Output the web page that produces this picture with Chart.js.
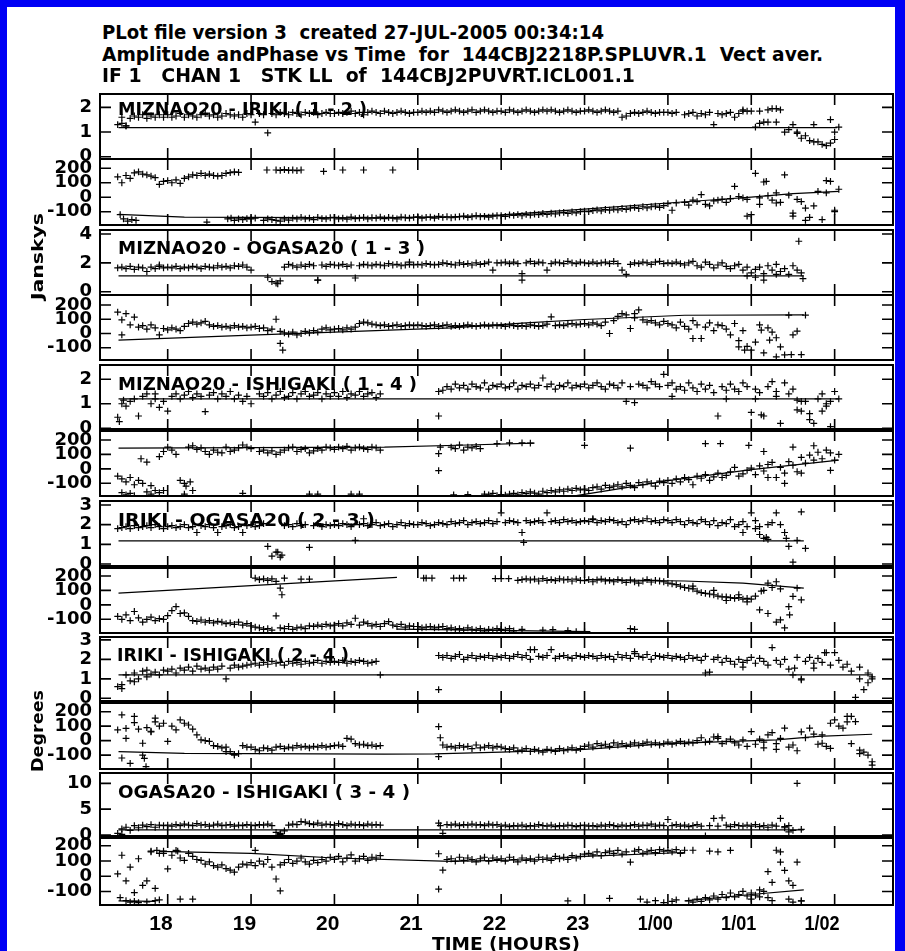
<!DOCTYPE html>
<html>
<head>
<meta charset="utf-8">
<title>Amplitude and Phase vs Time</title>
<script src="https://cdn.jsdelivr.net/npm/chart.js@4.4.1/dist/chart.umd.min.js"></script>
<style>
  body { margin: 0; width: 905px; height: 951px; background: #0000f5; position: relative; overflow: hidden; }
  #sheet { position: absolute; left: 7px; top: 7px; width: 888px; height: 944px; background: #fff; }
  canvas { position: absolute; left: 0; }
  .txt { position: absolute; z-index: 2; font-family: "DejaVu Sans", sans-serif; font-weight: bold; color: #000; white-space: pre; line-height: 1; transform-origin: 0 0; }
</style>
</head>
<body>
<div id="sheet"></div>
<div class="txt" data-w="502" style="left:102px;top:23px;font-size:19px">PLot file version 3  created 27-JUL-2005 00:34:14</div>
<div class="txt" data-w="721" style="left:102px;top:45px;font-size:19px">Amplitude andPhase vs Time  for  144CBJ2218P.SPLUVR.1  Vect aver.</div>
<div class="txt" data-w="533" style="left:102px;top:65.5px;font-size:19px">IF 1   CHAN 1   STK LL  of  144CBJ2PUVRT.ICL001.1</div>
<div class="txt" data-w="87" data-rot="1" style="left:30px;top:300px;font-size:16px">Janskys</div>
<div class="txt" data-w="82" data-rot="1" style="left:30px;top:772px;font-size:16px">Degrees</div>
<div class="txt" data-w="148" style="left:432px;top:935px;font-size:18px">TIME (HOURS)</div>
<script>
// sample times (hours), shared by every baseline
var hours = [
  17.40,17.45,17.50,17.55,17.60,17.65,17.70,17.75,17.80,17.85,17.90,17.95,
  18.00,18.05,18.10,18.15,18.20,18.25,18.30,18.35,18.40,18.45,18.50,18.55,18.60,18.65,18.70,18.75,18.80,18.85,18.90,18.95,
  19.00,19.05,19.10,19.15,19.20,19.25,19.30,19.35,19.40,19.45,19.50,19.55,19.60,19.65,19.70,19.75,19.80,19.85,19.90,19.95,
  20.00,20.05,20.10,20.15,20.20,20.25,20.30,20.35,20.40,20.45,20.50,20.55,20.60,20.65,20.70,20.75,20.80,20.85,20.90,20.95,
  21.00,21.05,21.10,21.15,21.20,21.25,21.30,21.35,21.40,21.45,21.50,21.55,21.60,21.65,21.70,21.75,21.80,21.85,21.90,21.95,
  22.00,22.05,22.10,22.15,22.20,22.25,22.30,22.35,22.40,22.45,22.50,22.55,22.60,22.65,22.70,22.75,22.80,22.85,22.90,22.95,
  23.00,23.05,23.10,23.15,23.20,23.25,23.30,23.35,23.40,23.45,23.50,23.55,23.60,23.65,23.70,23.75,23.80,23.85,23.90,23.95,
  24.00,24.05,24.10,24.15,24.20,24.25,24.30,24.35,24.40,24.45,24.50,24.55,24.60,24.65,24.70,24.75,24.80,24.85,24.90,24.95,
  25.00,25.05,25.10,25.15,25.20,25.25,25.30,25.35,25.40,25.45,25.50,25.55,25.60,25.65,25.70,25.75,25.80,25.85,25.90,25.95,
  26.00,26.05,26.10,26.15,26.20,26.25,26.30,26.35,26.40,26.45,26.50
];
var hourTicks = [18, 19, 20, 21, 22, 23, 24, 25, 26];
var hourLabels = ['18', '19', '20', '21', '22', '23', '1/00', '1/01', '1/02'];
var timeRange = [17.188, 26.70];
var phaseTicks = [-100, 0, 100, 200];

// MIZNAO20 - IRIKI
var amp12 = [
  1.3,1.6,1.25,1.55,1.65,1.6,1.7,1.55,1.65,1.6,1.7,1.6,
  1.7,1.6,1.65,1.75,1.6,1.7,1.65,1.6,1.7,1.75,1.65,1.7,1.6,1.65,1.75,1.7,1.65,1.7,1.6,1.75,
  1.7,1.4,1.75,1.7,0.97,1.75,1.7,1.8,1.75,1.7,1.8,1.75,1.7,1.8,1.75,1.8,1.7,1.75,1.8,1.75,
  1.75,1.8,1.75,1.8,1.85,1.75,1.8,1.7,1.8,1.85,1.8,1.75,1.85,1.8,1.75,1.8,1.85,1.8,1.75,1.8,
  1.8,1.85,1.8,1.85,1.8,1.9,1.85,1.8,1.85,1.9,1.85,1.8,1.85,1.9,1.8,1.85,1.9,1.85,1.8,1.85,
  1.85,1.8,1.9,1.85,1.8,1.85,1.9,1.85,1.8,1.85,1.9,1.85,1.9,1.85,1.8,1.85,1.9,1.85,1.8,1.85,
  1.85,1.9,1.85,1.8,1.85,1.9,1.85,1.8,1.85,1.6,1.65,1.75,1.8,1.75,1.8,1.85,1.8,1.75,1.8,1.8,
  1.8,1.75,1.8,null,1.7,1.75,1.8,1.65,1.75,1.7,1.8,1.3,1.75,1.7,1.75,1.8,1.6,1.75,1.9,1.85,
  1.85,1.2,1.85,1.4,1.9,1.95,1.4,1.9,1.0,1.1,1.3,1.0,0.75,0.85,0.65,1.3,0.6,0.5,0.45,1.5,
  0.7,1.2,null,null,null,null,null,null,null,null,null
];
var amp12x = [[17.45,1.35],[17.5,1.25],[24.9,1.85],[25.1,1.35],[25.2,1.4],[25.3,1.95],[25.55,0.95],[25.75,0.6],[25.95,0.55],[26.0,1.0]];
var amp12m = [[17.41,1.18],[26.03,1.18]];
var phs12 = [
  140,100,150,130,168,175,160,155,145,135,88,110,
  115,100,120,95,130,140,155,150,165,150,160,150,145,150,165,170,175,172,null,null,
  -150,-145,null,-160,-150,-155,-160,-165,-150,-158,-145,-150,-140,-150,-145,-155,-140,-148,-150,-142,
  -140,-150,-145,-152,-138,-148,-145,-140,-150,-142,-145,-138,-148,-140,-145,-150,-138,-142,-145,-140,
  -135,-145,-140,-138,-145,-132,-140,-135,-142,-138,-135,-130,-140,-135,-128,-135,-132,-138,-130,-128,
  -128,-132,-122,-126,-120,-128,-118,-124,-116,-120,-112,-118,-110,-116,-108,-105,-112,-102,-108,-100,
  -96,-100,-92,-88,-95,-85,-90,-82,-88,-78,-84,-76,-70,-78,-66,-74,-66,-62,-70,-58,
  -45,-90,-40,null,-35,-55,-20,-30,18,-50,-60,-25,-20,-15,-35,-10,75,5,-5,-15,
  -120,165,-5,105,10,-20,30,-35,155,15,-130,-15,-30,-75,-140,-60,40,-155,30,110,
  -100,55,null,null,null,null,null,null,null,null,null
];
var phs12x = [[17.43,-120],[17.47,-150],[17.52,-165],[17.57,-155],[17.62,-160],[18.47,-172],[18.72,-150],[18.76,-145],
  [18.8,-160],[18.85,-150],[18.9,-155],[18.95,-148],[19.19,188],[19.3,188],[19.35,186],[19.4,190],[19.45,186],[19.5,188],
  [19.55,184],[19.6,188],[19.87,178],[20.1,188],[20.35,188],[20.7,188],[24.75,-10],[24.95,-130],[25.1,-50],[25.18,110],
  [25.3,-40],[25.5,-110],[25.65,-160],[25.9,115],[26.0,-90]];
var phs12m = [[17.41,-118],[18.2,-138],[20.5,-143],[21.4,-136],[22.0,-122],[23.0,-82],[24.0,-40],[24.6,-16],[25.0,0],[25.5,25],[26.05,41]];

// MIZNAO20 - OGASA20
var amp13 = [
  1.65,1.7,1.6,1.75,1.55,1.7,1.65,1.4,1.7,1.6,1.75,1.65,
  1.7,1.65,1.75,1.6,1.7,1.65,1.75,1.7,1.6,1.75,1.7,1.65,1.8,1.7,1.75,1.65,1.8,1.75,1.85,1.7,
  1.5,null,null,null,1.0,0.7,0.6,0.75,1.7,1.9,1.8,1.7,1.85,1.75,1.9,1.8,0.8,1.85,1.75,1.9,
  1.85,1.8,1.9,1.75,1.85,0.95,1.8,1.9,1.85,1.8,1.9,1.85,1.8,1.95,1.85,1.9,1.8,1.85,1.9,1.85,
  1.9,1.85,1.95,1.9,1.85,1.9,2.0,1.95,1.9,1.85,2.0,1.9,1.95,1.85,2.0,1.9,1.95,2.05,1.5,2.0,
  2.0,2.05,1.95,2.05,1.95,1.25,2.0,2.1,1.95,2.05,2.0,1.5,1.95,2.05,2.0,1.95,2.1,2.0,1.95,2.05,
  2.0,1.95,2.05,1.95,2.0,2.05,1.95,2.1,1.95,1.5,1.2,1.9,2.0,1.95,2.05,2.0,1.9,2.05,2.1,1.95,
  2.0,1.95,2.05,1.95,1.85,2.0,2.1,1.8,1.7,2.05,1.9,1.65,1.85,2.0,1.75,1.6,1.8,1.9,1.5,1.7,
  1.3,1.55,1.7,1.25,1.8,1.5,1.9,1.4,1.6,1.2,1.8,1.5,1.3,null,null,null,null,null,null,null,
  null,null,null,null,null,null,null,null,null,null,null
];
var amp13x = [[17.9,1.85],[19.32,0.55],[19.8,0.8],[20.9,2.05],[22.25,0.8],[24.95,1.1],[25.05,1.0],[25.15,0.8],[25.3,1.2],[25.57,3.5],[25.62,0.9]];
var amp13m = [[17.41,1.1],[25.63,1.1]];
var phs13 = [
  150,95,140,60,115,45,55,30,60,40,-10,35,
  25,40,30,20,50,70,80,65,75,85,60,50,55,45,50,40,55,45,50,40,
  45,50,35,40,20,30,100,15,5,-5,10,-10,0,15,5,20,10,30,40,25,
  30,35,25,40,30,45,70,80,75,65,60,55,60,50,55,60,50,55,60,55,
  60,55,50,55,60,50,55,60,50,55,50,55,60,55,50,55,60,52,58,55,
  55,50,60,55,50,55,50,60,55,50,55,65,117,55,60,55,65,70,60,65,
  70,60,75,65,55,80,0,90,120,140,130,35,110,165,95,80,90,75,60,85,
  70,60,40,80,50,30,90,60,-35,45,75,20,60,55,30,-10,70,-50,20,-90,
  -117,-60,60,-136,40,10,-30,-94,-150,129,-10,16,-148,129,null,null,null,null,null,null,
  null,null,null,null,null,null,null,null,null,null,null
];
var phs13x = [[17.45,-10],[19.35,-70],[19.38,-117],[23.6,140],[24.3,-35],[24.85,-94],[24.92,-117],[25.12,23],[25.22,-47],[25.3,-164],[25.48,-148]];
var phs13m = [[17.41,-47],[19.0,-12],[20.0,10],[21.4,40],[22.3,75],[23.0,98],[24.2,128],[25.63,130]];

// MIZNAO20 - ISHIGAKI
var amp14 = [
  0.45,1.0,0.9,1.1,1.2,0.5,1.3,1.4,1.0,1.2,0.85,1.1,
  0.7,1.3,1.4,1.2,1.35,1.5,1.25,1.4,1.3,0.68,1.35,1.45,1.2,1.4,1.3,1.5,1.2,1.35,1.1,1.3,
  1.0,null,1.4,1.3,1.45,1.2,1.35,1.5,1.25,1.3,1.45,1.2,1.4,1.5,1.3,1.35,1.45,1.2,1.4,1.3,
  1.45,1.3,1.5,1.25,1.4,1.35,1.5,1.3,1.4,1.45,1.25,1.4,null,null,null,null,null,null,null,null,
  null,null,null,null,null,1.5,1.55,1.7,1.6,1.8,1.65,1.75,1.6,1.8,1.7,1.65,1.85,1.6,1.75,1.7,
  1.8,1.65,1.7,1.85,1.6,1.75,1.7,1.8,1.65,1.75,2.05,1.7,1.8,1.6,1.75,1.7,1.85,1.65,1.75,1.7,
  1.8,1.65,1.75,1.85,1.7,1.6,1.8,1.75,1.65,1.85,1.1,1.7,1.05,1.8,1.75,1.65,1.9,1.8,1.7,2.2,
  1.75,1.85,1.6,1.7,1.55,1.85,1.65,1.5,1.8,1.6,1.75,1.45,0.5,1.7,1.55,1.8,1.6,1.5,1.85,1.7,
  0.65,1.6,1.45,0.5,1.7,1.9,1.5,0.2,1.85,1.4,1.6,1.15,0.7,1.1,0.35,0.2,1.2,1.4,0.9,1.1,
  1.5,1.2,null,null,null,null,null,null,null,null,null
];
var amp14x = [[17.42,0.27],[17.47,1.15],[17.85,1.4],[21.25,0.5],[24.05,1.3],[24.7,1.2],[25.05,1.2],[25.12,0.55],[25.3,1.3],
  [25.55,0.75],[25.6,1.1],[25.7,0.6],[25.85,0.7],[25.9,1.0],[25.95,0.07]];
var amp14m = [[17.41,1.2],[26.05,1.2]];
var phs14 = [
  -50,-70,-90,-60,-110,-80,-100,47,-116,-150,85,120,
  150,130,100,-80,-100,150,160,135,145,120,100,130,115,110,150,120,130,145,165,150,
  140,null,120,130,110,125,100,115,130,145,150,120,135,140,110,125,140,130,150,145,
  135,150,140,155,130,145,150,140,135,150,145,130,null,null,null,null,null,null,null,null,
  null,null,null,null,null,105,null,null,150,140,165,130,150,145,155,140,-175,-180,-170,-185,
  -178,-182,-175,-170,-180,-165,-172,-160,-168,-175,-155,-165,-150,-160,-145,-155,-140,-150,-135,-145,
  -140,-150,-130,-125,-140,-115,-130,-120,-110,-125,-100,-115,-130,-95,-110,-90,-100,-120,-85,-95,
  -80,-100,-70,-90,-60,-75,-110,-50,-65,-40,-80,-55,-30,-60,-45,-20,10,-50,-35,-10,
  5,-40,20,-15,30,45,-60,10,-30,50,25,-20,80,40,95,60,115,70,130,-10,
  60,100,null,null,null,null,null,null,null,null,null
];
var phs14x = [[17.45,-165],[17.5,-180],[17.55,-170],[17.6,-186],[17.68,70],[17.75,-160],[17.8,-175],[17.9,-165],[17.95,-150],
  [18.2,-175],[18.22,-120],[18.27,-90],[18.3,-150],[18.9,-170],[19.7,-175],[19.8,-175],[20.2,-175],[20.3,-175],[21.25,-12],
  [21.27,150],[21.43,-180],[21.6,-178],[21.95,175],[22.1,180],[22.25,180],[22.35,178],[23.0,163],[23.55,144],[24.45,174],
  [24.63,174],[24.97,163],[25.15,120],[25.2,-60],[25.4,-100],[25.5,150],[25.6,-30],[25.75,160],[25.95,110]];
var phs14m = [[17.41,144],[20.6,150],[21.6,165],[22.4,178],null,[22.9,-186],[23.5,-130],[24.0,-82],[25.0,-5],[26.05,60]];

// IRIKI - OGASA20
var amp23 = [
  1.8,1.85,1.9,1.8,1.95,1.85,1.9,1.95,1.85,2.0,1.9,1.8,
  1.9,1.95,1.85,1.9,2.0,1.85,1.9,1.6,1.95,1.9,2.0,1.85,1.6,1.9,1.95,2.0,1.85,1.9,1.6,1.95,
  2.0,1.9,1.95,2.05,0.9,0.4,0.6,0.35,1.95,2.0,1.9,2.05,1.95,2.0,0.85,1.95,2.05,1.9,2.0,1.95,
  2.0,1.95,2.05,2.0,1.9,1.2,2.0,2.05,1.95,2.0,2.1,1.95,2.0,2.05,1.9,2.0,2.1,1.95,2.05,2.0,
  2.0,2.1,2.05,1.95,2.0,2.1,2.05,2.0,2.15,2.05,2.1,2.2,2.0,2.1,2.15,2.05,2.1,2.2,2.05,2.15,
  2.6,2.1,2.2,2.15,2.1,1.6,2.2,2.1,2.15,2.2,2.1,2.6,2.15,2.2,2.1,2.25,2.15,2.2,2.1,2.15,
  2.2,2.15,2.25,2.1,2.2,2.15,2.25,2.2,2.1,2.15,2.0,2.2,2.25,2.15,2.2,2.3,2.15,2.2,2.1,2.25,
  2.2,2.1,2.25,2.15,2.0,2.2,2.1,2.05,2.25,2.15,2.0,2.2,1.95,2.1,2.05,2.25,1.9,2.0,2.15,1.9,
  2.6,2.2,1.9,1.3,1.25,2.1,2.6,2.0,1.6,0.9,0.1,1.2,2.65,0.8,null,null,null,null,null,null,
  null,null,null,null,null,null,null,null,null,null,null
];
var amp23x = [[19.32,0.6],[19.37,0.45],[20.35,2.3],[22.27,1.1],[23.1,2.3],[24.9,1.6],[25.05,1.8],[25.1,1.5],[25.18,1.35],[25.2,2.0],[25.42,1.3]];
var amp23m = [[17.41,1.18],[25.63,1.18]];
var phs23 = [
  -80,-100,-70,-110,-46,-90,-120,-100,-85,-110,-95,-100,
  -75,-40,-12,-60,-55,-80,-110,-115,-105,-120,-110,-125,-115,-120,-130,-125,-135,-120,-140,-130,
  -145,-155,-160,-170,-165,-175,-76,-160,-165,-150,-170,-160,-155,-165,-145,-150,-140,-150,-135,-145,
  -140,-130,-145,-125,-135,-93,-140,-120,-130,-145,-135,-150,-130,-116,-140,-150,-135,-155,-145,-150,
  -150,-160,-155,-150,-160,-155,-150,-165,-160,-170,-165,-175,-160,-170,-175,-165,-180,-170,-175,-165,
  -170,-175,-165,-180,170,175,180,172,178,165,182,170,175,168,180,172,176,165,178,170,
  168,175,160,172,178,165,170,160,175,168,155,172,160,150,165,175,158,170,165,160,
  150,145,140,130,120,115,110,95,85,80,75,70,60,55,55,50,45,50,40,45,
  40,60,-35,100,150,120,160,-104,-160,-12,58,116,35,null,null,null,null,null,null,null,
  null,null,null,null,null,null,null,null,null,null,null
];
var phs23x = [[19.05,185],[19.1,175],[19.15,180],[19.2,170],[19.25,180],[19.3,162],[19.35,116],[19.37,70],[19.4,185],[19.6,178],
  [19.7,178],[21.07,185],[21.1,185],[21.17,185],[21.43,185],[21.5,185],[21.55,185],[21.93,182],[22.0,182],[22.09,182],
  [22.25,-170],[22.5,-175],[22.62,-172],[22.8,-178],[22.9,-185],[23.0,-185],[23.55,-165],[23.6,-170],[24.3,130],[24.55,100],
  [24.7,30],[24.85,70],[24.95,20],[25.12,95],[25.2,-60],[25.3,-120],[25.35,110],[25.46,-70]];
var phs23m = [[17.41,81],[20.75,190],null,[20.75,-168],[23.07,-185],null,[23.07,175],[24.2,165],[24.9,150],[25.63,116]];

// IRIKI - ISHIGAKI
var amp24 = [
  0.6,0.7,1.2,0.9,1.3,1.0,1.4,1.1,1.25,1.35,1.2,1.45,
  1.4,1.5,1.3,1.55,1.45,1.6,1.4,1.65,1.5,1.55,1.45,1.6,1.5,1.65,1.0,1.55,1.7,1.6,1.65,1.7,
  1.75,1.8,1.7,1.85,1.75,1.9,1.8,1.85,1.7,1.9,1.8,1.85,1.75,1.9,1.8,1.85,1.95,1.8,1.9,1.85,
  1.9,1.85,1.95,1.8,1.9,1.85,1.95,1.9,1.8,1.85,1.9,1.2,null,null,null,null,null,null,null,null,
  null,null,null,null,null,2.2,2.1,2.2,2.05,2.15,2.25,2.0,2.1,2.2,2.05,2.15,2.1,2.2,2.05,2.15,
  2.1,2.2,2.05,2.15,2.25,2.1,2.2,2.0,2.5,2.15,2.1,2.2,2.5,2.05,2.15,2.2,2.1,2.05,2.2,2.15,
  2.1,2.2,2.15,2.05,2.2,2.1,2.15,2.0,2.25,2.1,2.2,2.05,2.3,2.15,2.1,2.25,2.0,2.2,2.15,2.1,
  2.2,2.05,2.15,2.1,2.0,2.2,2.05,2.1,1.95,2.15,1.35,2.0,2.1,1.85,2.05,1.9,1.75,2.0,1.85,1.95,
  2.1,1.8,2.05,1.9,1.7,2.6,1.95,1.75,2.0,1.5,1.2,2.1,1.0,1.9,2.1,1.8,2.05,1.85,2.35,1.7,
  2.35,1.95,1.6,1.75,1.4,0.05,1.6,0.45,1.3,1.1,null
];
var amp24x = [[17.45,0.5],[17.6,0.85],[17.75,1.45],[21.25,0.45],[22.35,2.5],[23.6,2.4],[24.45,1.3],[24.9,1.6],[25.52,1.55],
  [25.6,0.95],[25.75,1.55],[25.88,2.35],[26.3,1.0],[26.4,0.8],[26.45,1.0]];
var amp24m = [[17.41,1.2],[26.45,1.2]];
var phs24 = [
  74,178,16,-157,167,80,-18,90,60,155,100,120,
  -5,100,75,144,120,108,80,40,5,0,-5,-35,-40,-50,-45,-76,-100,-90,-35,-45,
  -45,-60,-70,-50,-55,-65,-45,-40,-55,-45,-50,-35,-45,-40,-50,-40,-45,-35,-45,-40,
  -35,-30,-40,16,10,-20,-30,-25,-35,-30,-40,-35,null,null,null,null,null,null,null,null,
  null,null,null,null,null,97,-30,-45,-40,-50,-35,-45,-40,-55,-30,-50,-45,-35,-50,-40,
  -45,-55,-60,-50,-70,-65,-55,-75,-60,-70,-80,-60,-65,-75,-55,-70,-60,-50,-65,-55,
  -40,-30,-45,-20,-35,-25,-40,-15,-30,-20,-35,-25,-15,-30,-20,-10,-25,-15,-30,-20,
  -10,-25,-15,-5,-20,-10,-15,0,20,-10,-5,25,16,-20,-5,10,-15,-30,5,-40,
  62,-25,10,-50,40,55,-60,15,86,-45,-30,-70,60,20,86,45,-25,40,-40,120,
  144,100,86,167,-20,132,-65,-80,-100,-146,null
];
var phs24x = [[17.45,-120],[17.5,85],[17.6,125],[17.7,-100],[17.72,-123],[17.74,-180],[17.8,65],[17.85,130],[18.7,-76],[18.8,-95],
  [21.25,-111],[21.27,20],[24.6,28],[25.15,-10],[25.3,-20],[25.85,-18],[25.95,-53],[26.15,130],[26.2,167],[26.3,-90],[26.45,-169]];
var phs24m = [[17.41,-76],[18.2,-88],[20.6,-93],[21.2,-92],[22.0,-80],[23.0,-60],[24.0,-20],[24.6,-8],[25.3,5],[25.8,30],[26.45,44]];

// OGASA20 - ISHIGAKI
var amp34 = [
  0.3,1.2,1.5,0.9,1.8,1.4,1.9,1.6,2.0,1.5,1.9,1.8,
  1.9,1.7,2.0,1.8,2.1,1.9,1.8,2.2,1.9,2.0,1.7,1.9,2.1,1.8,1.9,2.0,1.7,1.9,1.8,2.0,
  1.9,1.8,2.0,1.9,2.1,1.8,0.5,0.3,0.8,1.9,2.1,2.0,2.6,2.5,2.2,2.0,2.3,1.9,2.1,2.0,
  1.9,2.2,2.0,1.8,2.1,1.9,2.0,1.8,2.1,1.9,2.0,1.9,null,null,null,null,null,null,null,null,
  null,null,null,null,null,2.3,0.3,2.0,1.9,2.1,1.8,2.0,1.9,2.1,1.9,2.0,1.8,2.1,1.9,2.0,
  1.7,1.9,1.6,1.8,1.7,1.9,1.6,1.8,1.7,2.0,1.8,1.7,1.9,1.6,1.8,1.7,1.9,1.8,1.6,1.8,
  1.9,1.7,1.8,1.6,1.9,1.7,2.0,1.8,1.6,1.9,1.7,1.8,2.0,1.7,1.9,1.8,2.1,1.7,1.9,1.8,
  3.0,1.8,2.0,1.7,1.9,1.6,1.8,2.0,1.7,-0.2,1.8,3.2,1.7,3.3,1.9,1.6,2.0,1.8,1.7,1.9,
  1.7,2.0,1.6,1.8,1.5,1.9,1.7,3.2,1.4,1.8,0.9,10.0,1.1,null,null,null,null,null,null,null,
  null,null,null,null,null,null,null,null,null,null,null
];
var amp34x = [[17.45,0.1],[19.35,0.1],[21.27,1.8],[25.4,1.6],[25.45,0.6]];
var amp34m = [[17.41,1.0],[25.63,1.0]];
var phs34 = [
  16,138,-30,60,-107,115,-60,-30,160,-80,150,165,
  48,138,170,120,104,150,130,110,104,80,95,70,60,75,50,40,27,60,80,75,
  90,70,100,80,110,60,-18,75,90,110,85,100,120,95,80,105,90,110,100,125,
  110,130,95,120,140,100,115,130,105,125,120,135,null,null,null,null,null,null,null,null,
  null,null,null,null,null,148,40,110,115,100,125,105,120,110,95,115,125,100,120,110,
  115,100,125,110,95,120,105,115,100,125,110,120,105,130,115,125,110,135,120,130,
  145,150,140,160,135,155,165,150,170,145,160,93,165,175,150,160,170,155,175,165,
  170,160,175,150,171,-162,-170,-150,-165,-140,-155,-130,-150,-120,-140,-110,-135,-120,-100,-130,
  -110,-125,-90,-100,30,-40,171,93,38,-30,-60,93,-162,null,null,null,null,null,null,null,
  null,null,null,null,null,null,null,null,null,null,null
];
var phs34x = [[17.43,-140],[17.5,-160],[17.55,-170],[17.6,-165],[17.65,-173],[17.75,-168],[17.8,165],[17.85,-160],[17.87,170],
  [17.9,-155],[17.95,150],[18.12,165],[18.15,-150],[18.3,-150],[19.05,170],[19.35,-96],[21.25,-85],[22.8,-162],[23.3,-145],
  [23.67,-150],[23.75,-170],[23.85,-160],[23.95,-173],[24.05,-165],[24.1,-155],[24.3,171],[24.5,165],[24.6,160],[24.75,170],
  [25.0,-150],[25.1,-135],[25.2,-140],[25.25,-160],[25.35,160],[25.45,-150],[25.5,-170],[25.6,-162]];
var phs34m = [[17.41,-162],[17.85,-165],null,[17.9,164],[19.0,150],[20.0,120],[21.4,98],[22.5,110],[23.0,130],[24.2,156],null,
  [24.2,-162],[25.0,-120],[25.63,-89]];

// axis ranges and tick values
var ampRange12 = [-0.09, 2.54], phsRange12 = [-192, 264], ampTicks12 = [0, 1, 2];
var ampRange13 = [-0.23, 4.28], phsRange13 = [-186, 270], ampTicks13 = [0, 2, 4];
var ampRange14 = [-0.07, 2.58], phsRange14 = [-188, 269], ampTicks14 = [0, 1, 2];
var ampRange23 = [-0.15, 3.20], phsRange23 = [-195, 262], ampTicks23 = [0, 1, 2, 3];
var ampRange24 = [-0.19, 3.15], phsRange24 = [-196, 267], ampTicks24 = [0, 1, 2, 3];
var ampRange34 = [-0.39, 12.0], phsRange34 = [-189, 258], ampTicks34 = [0, 5, 10];

var baselines = [
  { label: 'MIZNAO20 - IRIKI ( 1 - 2 )', amp: [amp12, amp12x, amp12m, ampRange12, ampTicks12], phs: [phs12, phs12x, phs12m, phsRange12] },
  { label: 'MIZNAO20 - OGASA20 ( 1 - 3 )', amp: [amp13, amp13x, amp13m, ampRange13, ampTicks13], phs: [phs13, phs13x, phs13m, phsRange13] },
  { label: 'MIZNAO20 - ISHIGAKI ( 1 - 4 )', amp: [amp14, amp14x, amp14m, ampRange14, ampTicks14], phs: [phs14, phs14x, phs14m, phsRange14] },
  { label: 'IRIKI - OGASA20 ( 2 - 3 )', amp: [amp23, amp23x, amp23m, ampRange23, ampTicks23], phs: [phs23, phs23x, phs23m, phsRange23] },
  { label: 'IRIKI - ISHIGAKI ( 2 - 4 )', amp: [amp24, amp24x, amp24m, ampRange24, ampTicks24], phs: [phs24, phs24x, phs24m, phsRange24] },
  { label: 'OGASA20 - ISHIGAKI ( 3 - 4 )', amp: [amp34, amp34x, amp34m, ampRange34, ampTicks34], phs: [phs34, phs34x, phs34m, phsRange34] }
];

// panel boxes: top, divider, bottom, label baseline offset, label x, label width, heavy divider
var boxes = [
  [94, 159, 225, 21, 118, 249, false],
  [230, 295, 360, 24.3, 118, 307, false],
  [365, 430, 496, 25, 118, 299, true],
  [501, 567, 633, 25.3, 118, 257, true],
  [637, 702, 769, 24, 117, 232, true],
  [773, 837, 905, 24.6, 118, 292, true]
];

function gridPoints(vals) {
  var out = [];
  for (var i = 0; i < hours.length; i++) if (vals[i] != null) out.push({ x: hours[i], y: vals[i] });
  return out;
}
function pairPoints(list) {
  return list.map(function (p) { return { x: p[0], y: p[1] }; });
}
function modelPoints(list) {
  var out = [], lastX = hours[0];
  list.forEach(function (p) {
    if (p === null) out.push({ x: lastX, y: null });
    else { out.push({ x: p[0], y: p[1] }); lastX = p[0]; }
  });
  return out;
}

function fitText(ctx, text, x, y, w, align) {
  var m = ctx.measureText(text).width;
  ctx.save();
  ctx.translate(x, y);
  ctx.scale(w ? w / m : 1, 1);
  ctx.textAlign = align || 'left';
  ctx.fillText(text, 0, 0);
  ctx.restore();
}

// frame, inward ticks, baseline name and the time labels
var framePlugin = {
  id: 'frame',
  afterDraw: function (chart, args, o) {
    var ctx = chart.ctx, a = chart.chartArea, xs = chart.scales.x, ys = chart.scales.y;
    ctx.save();
    ctx.strokeStyle = '#000';
    ctx.fillStyle = '#000';
    ctx.lineWidth = 2;
    ctx.strokeRect(a.left, a.top, a.right - a.left, a.bottom - a.top);
    if (o.thick) {
      ctx.lineWidth = 4;
      ctx.beginPath();
      ctx.moveTo(a.left, a.bottom);
      ctx.lineTo(a.right, a.bottom);
      ctx.stroke();
    }
    ctx.lineWidth = 1.6;
    ctx.beginPath();
    hourTicks.forEach(function (h) {
      var px = xs.getPixelForValue(h);
      ctx.moveTo(px, a.top); ctx.lineTo(px, a.top + 11);
      ctx.moveTo(px, a.bottom); ctx.lineTo(px, a.bottom - 11);
    });
    ys.ticks.forEach(function (t) {
      var py = ys.getPixelForValue(t.value);
      ctx.moveTo(a.left, py); ctx.lineTo(a.left + 11, py);
      ctx.moveTo(a.right, py); ctx.lineTo(a.right - 11, py);
    });
    ctx.stroke();
    if (o.label) {
      ctx.font = 'bold 18.4px "DejaVu Sans"';
      fitText(ctx, o.label, o.labelX, a.top + o.labelDy, o.labelW);
    }
    if (o.timeLabels) {
      ctx.font = 'bold 21px "Liberation Sans"';
      hourTicks.forEach(function (h, i) {
        var px = xs.getPixelForValue(h), txt = hourLabels[i];
        var w = ctx.measureText(txt).width * (txt.indexOf('/') >= 0 ? 0.86 : 1);
        fitText(ctx, txt, px + 5 - w, a.bottom + 24.5, w);
      });
    }
    ctx.restore();
  }
};

function makePanel(p) {
  // tick labels need about 19px of room above and below the plot area
  var padTop = 20, padBottom = p.last ? 951 - p.bottom : 20;
  var c = document.createElement('canvas');
  c.width = 905;
  c.height = p.bottom - p.top + padTop + padBottom;
  c.style.top = (p.top - padTop) + 'px';
  document.body.appendChild(c);
  return new Chart(c, {
    type: 'scatter',
    data: {
      datasets: [
        { data: modelPoints(p.model), showLine: true, pointRadius: 0, borderColor: '#000', borderWidth: 1.2, spanGaps: false },
        { data: gridPoints(p.values).concat(pairPoints(p.extra)), pointStyle: 'cross', pointRadius: 3.4, borderColor: '#000', borderWidth: 1.2 }
      ]
    },
    options: {
      responsive: false,
      animation: false,
      devicePixelRatio: 1,
      events: [],
      layout: { padding: { left: 7, right: 12, top: padTop, bottom: padBottom } },
      scales: {
        x: { type: 'linear', min: timeRange[0], max: timeRange[1], display: false },
        y: {
          type: 'linear',
          min: p.range[0],
          max: p.range[1],
          afterBuildTicks: function (s) { s.ticks = p.ticks.map(function (v) { return { value: v }; }); },
          afterFit: function (s) { s.width = 93; },
          grid: { display: false, drawTicks: false },
          border: { display: false },
          ticks: { autoSkip: false, padding: 8, color: '#000', font: { family: 'DejaVu Sans', weight: 'bold', size: 18 } }
        }
      },
      plugins: {
        legend: { display: false },
        tooltip: { enabled: false },
        frame: { label: p.label, labelDy: p.labelDy, labelX: p.labelX, labelW: p.labelW, thick: p.thick, timeLabels: p.last }
      }
    },
    plugins: [framePlugin]
  });
}

baselines.forEach(function (b, i) {
  var box = boxes[i];
  makePanel({ top: box[0], bottom: box[1], values: b.amp[0], extra: b.amp[1], model: b.amp[2], range: b.amp[3], ticks: b.amp[4],
    label: b.label, labelDy: box[3], labelX: box[4], labelW: box[5], thick: box[6], last: false });
  makePanel({ top: box[1], bottom: box[2], values: b.phs[0], extra: b.phs[1], model: b.phs[2], range: b.phs[3], ticks: phaseTicks,
    label: null, thick: false, last: i === baselines.length - 1 });
});

// stretch the header and axis titles to their set widths
document.querySelectorAll('.txt').forEach(function (el) {
  var k = parseFloat(el.dataset.w) / el.getBoundingClientRect().width;
  el.style.transform = (el.dataset.rot ? 'rotate(-90deg) ' : '') + 'scaleX(' + k + ')';
});
</script>
</body>
</html>
